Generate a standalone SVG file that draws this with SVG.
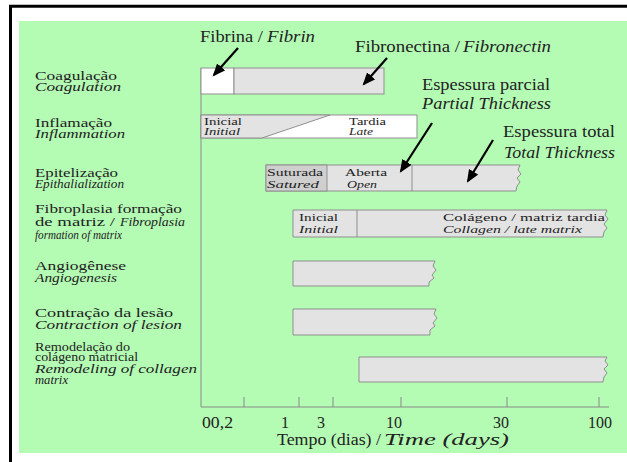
<svg xmlns="http://www.w3.org/2000/svg" width="627" height="462" viewBox="0 0 627 462">
<style>
.lab{font-size:12px;}
.ann{font-size:16px;}
.small{font-size:10px;}
.it{font-style:italic;}
.bar{fill:#e3e3e3;stroke:#8f8f8f;stroke-width:1;}
.wbar{fill:#ffffff;stroke:#8f8f8f;stroke-width:1;}
.div{stroke:#8f8f8f;stroke-width:1;fill:none;}
.axis{stroke:#8a8a8a;stroke-width:1;fill:none;}
.arr{stroke:#000;stroke-width:2.2;fill:none;marker-end:url(#ah);}
</style>
<defs>
<marker id="ah" viewBox="0 0 12 10" refX="10" refY="5" markerWidth="13" markerHeight="11" markerUnits="userSpaceOnUse" orient="auto">
<path d="M0,0 L12,5 L0,10 Z" fill="#000"/>
</marker>
</defs>
<rect x="0" y="0" width="627" height="462" fill="#ffffff"/>
<rect x="19" y="21" width="608" height="432" fill="#b4fbb4"/>
<path d="M10.5,462 V6.2 H627" stroke="#000" stroke-width="3" fill="none"/>

<g font-family="Liberation Serif" fill="#222">
<g id="axis">
<path class="axis" d="M201,68 V407 H609"/>
<path class="axis" d="M244,407 v-10 M299,407 v-10 M333,407 v-10 M401,407 v-10 M507,407 v-10 M599,407 v-10"/>
<text class="ann" x="202" y="428" textLength="31" lengthAdjust="spacingAndGlyphs">00,2</text>
<text class="ann" x="285" y="428" text-anchor="middle">1</text>
<text class="ann" x="321" y="428" text-anchor="middle">3</text>
<text class="ann" x="394" y="428" text-anchor="middle">10</text>
<text class="ann" x="501" y="428" text-anchor="middle">30</text>
<text class="ann" x="600" y="428" text-anchor="middle">100</text>
<text class="ann" x="277" y="445" textLength="104" lengthAdjust="spacingAndGlyphs">Tempo (dias) /</text>
<text class="ann it" x="384" y="445" textLength="125" lengthAdjust="spacingAndGlyphs">Time (days)</text>
</g>

<g id="coagulacao">
<text class="lab" x="35" y="80" textLength="82" lengthAdjust="spacingAndGlyphs">Coagulação</text>
<text class="lab it" x="35" y="91" textLength="86" lengthAdjust="spacingAndGlyphs">Coagulation</text>
<rect class="wbar" x="201" y="68" width="33" height="26"/>
<rect class="bar" x="234" y="68" width="150" height="26"/>
</g>

<g id="inflamacao">
<text class="lab" x="35" y="127" textLength="77" lengthAdjust="spacingAndGlyphs">Inflamação</text>
<text class="lab it" x="35" y="138" textLength="90" lengthAdjust="spacingAndGlyphs">Inflammation</text>
<rect class="wbar" x="201" y="115" width="216" height="23"/>
<path d="M201,115 H330 L262,138 H201 Z" fill="#e3e3e3" stroke="#8f8f8f" stroke-width="1"/>
<text class="small" x="204" y="125" textLength="38" lengthAdjust="spacingAndGlyphs">Inicial</text>
<text class="small it" x="204" y="135" textLength="36" lengthAdjust="spacingAndGlyphs">Initial</text>
<text class="small" x="349" y="125" textLength="37" lengthAdjust="spacingAndGlyphs">Tardia</text>
<text class="small it" x="349" y="135" textLength="24" lengthAdjust="spacingAndGlyphs">Late</text>
</g>

<g id="epitelizacao">
<text class="lab" x="35" y="177" textLength="83" lengthAdjust="spacingAndGlyphs">Epitelização</text>
<text class="lab it" x="35" y="188" textLength="89" lengthAdjust="spacingAndGlyphs">Epithalialization</text>
<path class="bar" d="M266,165 H520 l-2,5 l3,4 l-4,4 l3,4 l-3,4 l-1,5 H266 Z"/>
<rect x="266" y="165" width="61" height="26" fill="#cfcfcf" stroke="#8f8f8f" stroke-width="1"/>
<path class="div" d="M412,165 V191"/>
<text class="small" x="267" y="176" textLength="56" lengthAdjust="spacingAndGlyphs">Suturada</text>
<text class="small it" x="267" y="188" textLength="52" lengthAdjust="spacingAndGlyphs">Satured</text>
<text class="small" x="345" y="176" textLength="42" lengthAdjust="spacingAndGlyphs">Aberta</text>
<text class="small it" x="347" y="188" textLength="30" lengthAdjust="spacingAndGlyphs">Open</text>
</g>

<g id="fibroplasia">
<text class="lab" x="35" y="213" textLength="147" lengthAdjust="spacingAndGlyphs">Fibroplasia formação</text>
<text class="lab" x="35" y="226" textLength="80" lengthAdjust="spacingAndGlyphs">de matriz /</text>
<text class="lab it" x="120" y="226" textLength="65" lengthAdjust="spacingAndGlyphs">Fibroplasia</text>
<text class="lab it" x="35" y="239" textLength="87" lengthAdjust="spacingAndGlyphs">formation of matrix</text>
<path class="bar" d="M293,210 H607 l-2,5 l3,4 l-4,5 l3,4 l-3,4 l-1,5 H293 Z"/>
<path class="div" d="M357,210 V237"/>
<text class="small" x="299" y="221" textLength="39" lengthAdjust="spacingAndGlyphs">Inicial</text>
<text class="small it" x="299" y="233" textLength="39" lengthAdjust="spacingAndGlyphs">Initial</text>
<text class="small" x="443" y="221" textLength="162" lengthAdjust="spacingAndGlyphs">Colágeno / matriz tardia</text>
<text class="small it" x="443" y="233" textLength="139" lengthAdjust="spacingAndGlyphs">Collagen / late matrix</text>
</g>

<g id="angiogenese">
<text class="lab" x="35" y="270" textLength="91" lengthAdjust="spacingAndGlyphs">Angiogênese</text>
<text class="lab it" x="35" y="282" textLength="82" lengthAdjust="spacingAndGlyphs">Angiogenesis</text>
<path class="bar" d="M293,261 H435 l-2,5 l3,4 l-4,5 l2,3 l-5,4 l0,4 H293 Z"/>
</g>

<g id="contracao">
<text class="lab" x="35" y="317" textLength="138" lengthAdjust="spacingAndGlyphs">Contração da lesão</text>
<text class="lab it" x="35" y="329" textLength="147" lengthAdjust="spacingAndGlyphs">Contraction of lesion</text>
<path class="bar" d="M293,309 H436 l-2,5 l3,4 l-4,5 l2,3 l-5,4 l0,5 H293 Z"/>
</g>

<g id="remodelacao">
<text class="lab" x="35" y="351" textLength="95" lengthAdjust="spacingAndGlyphs">Remodelação do</text>
<text class="lab" x="35" y="361" textLength="103" lengthAdjust="spacingAndGlyphs">colágeno matricial</text>
<text class="lab it" x="35" y="373" textLength="162" lengthAdjust="spacingAndGlyphs">Remodeling of collagen</text>
<text class="lab it" x="35" y="384" textLength="33" lengthAdjust="spacingAndGlyphs">matrix</text>
<path class="bar" d="M359,357 H607 l-2,4 l3,4 l-4,4 l3,4 l-3,4 l-1,5 H359 Z"/>
</g>

<g id="fibrina">
<text class="ann" x="200" y="42" textLength="63" lengthAdjust="spacingAndGlyphs">Fibrina /</text>
<text class="ann it" x="267" y="42" textLength="48" lengthAdjust="spacingAndGlyphs">Fibrin</text>
</g>
<g id="fibronectina">
<text class="ann" x="355" y="52" textLength="105" lengthAdjust="spacingAndGlyphs">Fibronectina /</text>
<text class="ann it" x="463" y="52" textLength="88" lengthAdjust="spacingAndGlyphs">Fibronectin</text>
</g>
<g id="espessura-parcial">
<text class="ann" x="422" y="90" textLength="128" lengthAdjust="spacingAndGlyphs">Espessura parcial</text>
<text class="ann it" x="422" y="109" textLength="129" lengthAdjust="spacingAndGlyphs">Partial Thickness</text>
</g>
<g id="espessura-total">
<text class="ann" x="503" y="137" textLength="112" lengthAdjust="spacingAndGlyphs">Espessura total</text>
<text class="ann it" x="504" y="158" textLength="111" lengthAdjust="spacingAndGlyphs">Total Thickness</text>
</g>
</g>

<g id="connectors">
<path class="arr" d="M238,48 L214,75"/>
<path class="arr" d="M387,58 L364,84"/>
<path class="arr" d="M432,123 L401,171"/>
<path class="arr" d="M493,140 L468,181"/>
</g>
</svg>
